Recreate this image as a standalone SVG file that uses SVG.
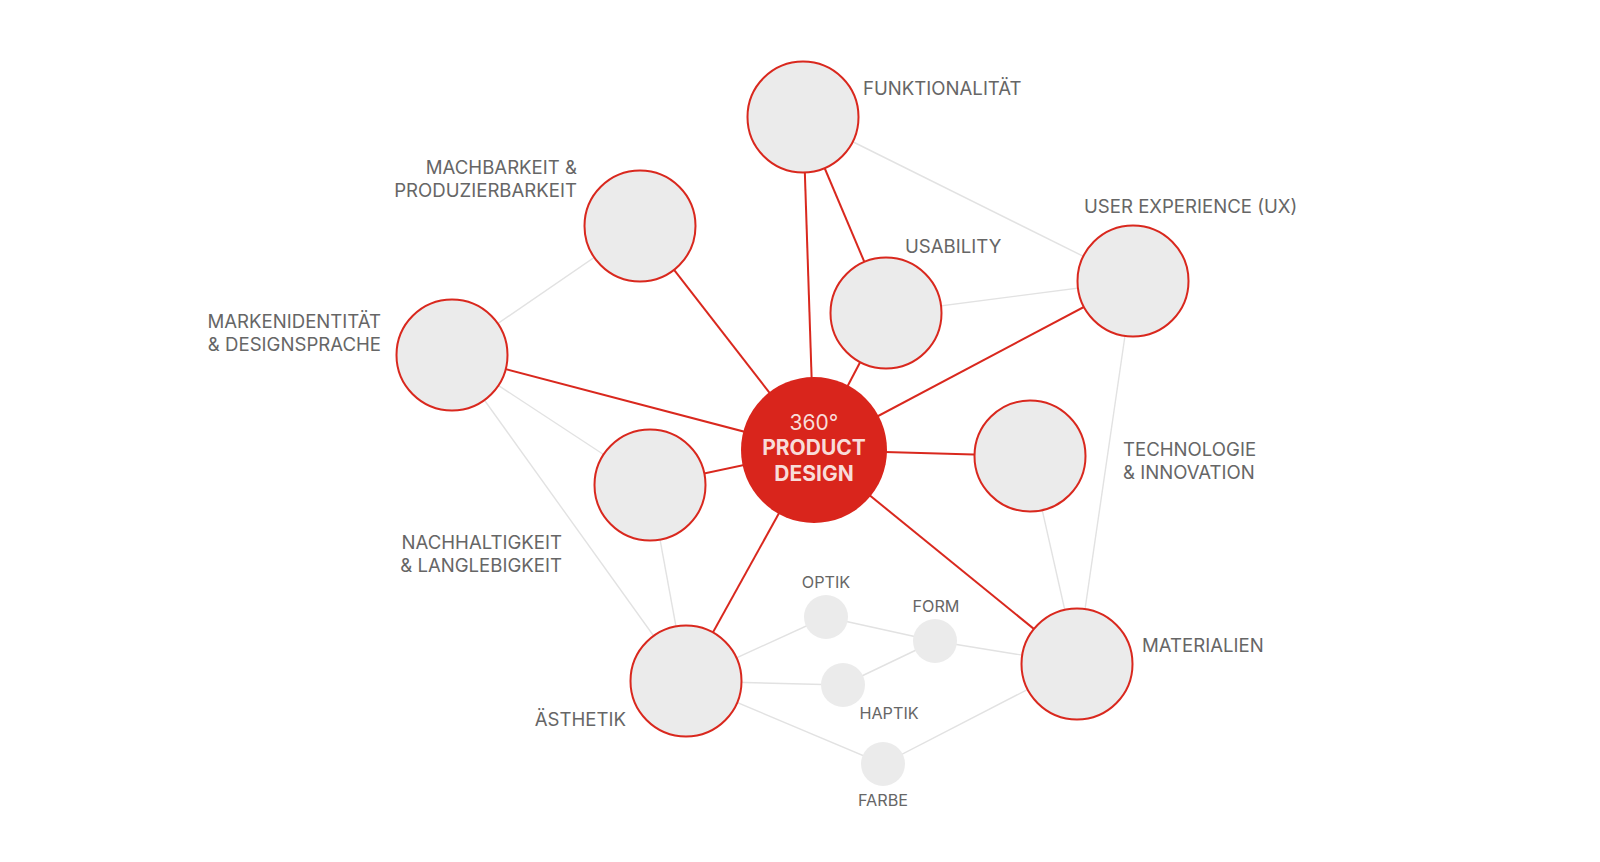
<svg xmlns="http://www.w3.org/2000/svg" width="1600" height="862" viewBox="0 0 1600 862">
<style>
.bg{fill:#ffffff}
.red{stroke:#d9281e;stroke-width:2;fill:none}
.gray{stroke:#e2e2e2;stroke-width:1.4;fill:none}
.node{fill:#ebebeb;stroke:#d9281e;stroke-width:2}
.small{fill:#ebebeb}
.lbl{font-family:Inter,"Liberation Sans",sans-serif;font-size:18.6px;fill:#666666}
.slbl{font-family:Inter,"Liberation Sans",sans-serif;font-size:16.2px;fill:#666666}
.core{fill:#d9251c}
.ctxt{font-family:Inter,"Liberation Sans",sans-serif;font-size:21px;fill:#f8dcd9;text-anchor:middle}
</style>
<rect class="bg" x="0" y="0" width="1600" height="862"/>
<g id="connectors">
<line class="gray" x1="803" y1="117" x2="1133" y2="281"/>
<line class="gray" x1="886" y1="313" x2="1133" y2="281"/>
<line class="gray" x1="640" y1="226" x2="452" y2="355"/>
<line class="gray" x1="452" y1="355" x2="650" y2="485"/>
<line class="gray" x1="452" y1="355" x2="686" y2="681"/>
<line class="gray" x1="650" y1="485" x2="686" y2="681"/>
<line class="gray" x1="1133" y1="281" x2="1077" y2="664"/>
<line class="gray" x1="1030" y1="456" x2="1077" y2="664"/>
<line class="gray" x1="686" y1="681" x2="826" y2="617"/>
<line class="gray" x1="826" y1="617" x2="935" y2="641"/>
<line class="gray" x1="935" y1="641" x2="1077" y2="664"/>
<line class="gray" x1="686" y1="681" x2="843" y2="685"/>
<line class="gray" x1="843" y1="685" x2="935" y2="641"/>
<line class="gray" x1="686" y1="681" x2="883" y2="764"/>
<line class="gray" x1="883" y1="764" x2="1077" y2="664"/>
<line class="red" x1="814" y1="450" x2="803" y2="117"/>
<line class="red" x1="803" y1="117" x2="886" y2="313"/>
<line class="red" x1="814" y1="450" x2="886" y2="313"/>
<line class="red" x1="814" y1="450" x2="1133" y2="281"/>
<line class="red" x1="814" y1="450" x2="640" y2="226"/>
<line class="red" x1="814" y1="450" x2="452" y2="355"/>
<line class="red" x1="814" y1="450" x2="650" y2="485"/>
<line class="red" x1="814" y1="450" x2="1030" y2="456"/>
<line class="red" x1="814" y1="450" x2="1077" y2="664"/>
<line class="red" x1="814" y1="450" x2="686" y2="681"/>
</g>
<g id="n-funktionalitaet">
<circle class="node" cx="803" cy="117" r="55.5"/>
<text class="lbl" x="863" y="95">FUNKTIONALITÄT</text>
</g>
<g id="n-usability">
<circle class="node" cx="886" cy="313" r="55.5"/>
<text class="lbl" x="905" y="253">USABILITY</text>
</g>
<g id="n-ux">
<circle class="node" cx="1133" cy="281" r="55.5"/>
<text class="lbl" x="1084" y="213">USER EXPERIENCE (UX)</text>
</g>
<g id="n-machbarkeit">
<circle class="node" cx="640" cy="226" r="55.5"/>
<text class="lbl" text-anchor="end" x="577" y="174">MACHBARKEIT &amp;</text>
<text class="lbl" text-anchor="end" x="577" y="197">PRODUZIERBARKEIT</text>
</g>
<g id="n-marken">
<circle class="node" cx="452" cy="355" r="55.5"/>
<text class="lbl" text-anchor="end" x="381" y="328">MARKENIDENTITÄT</text>
<text class="lbl" text-anchor="end" x="381" y="351">&amp; DESIGNSPRACHE</text>
</g>
<g id="n-nachhaltigkeit">
<circle class="node" cx="650" cy="485" r="55.5"/>
<text class="lbl" text-anchor="end" x="562" y="549">NACHHALTIGKEIT</text>
<text class="lbl" text-anchor="end" x="562" y="572">&amp; LANGLEBIGKEIT</text>
</g>
<g id="n-technologie">
<circle class="node" cx="1030" cy="456" r="55.5"/>
<text class="lbl" x="1123" y="456">TECHNOLOGIE</text>
<text class="lbl" x="1123" y="479">&amp; INNOVATION</text>
</g>
<g id="n-aesthetik">
<circle class="node" cx="686" cy="681" r="55.5"/>
<text class="lbl" text-anchor="end" x="626" y="726">ÄSTHETIK</text>
</g>
<g id="n-materialien">
<circle class="node" cx="1077" cy="664" r="55.5"/>
<text class="lbl" x="1142" y="652">MATERIALIEN</text>
</g>
<g id="n-optik">
<circle class="small" cx="826" cy="617" r="22"/>
<text class="slbl" text-anchor="middle" x="826" y="588">OPTIK</text>
</g>
<g id="n-form">
<circle class="small" cx="935" cy="641" r="22"/>
<text class="slbl" text-anchor="middle" x="936" y="612">FORM</text>
</g>
<g id="n-haptik">
<circle class="small" cx="843" cy="685" r="22"/>
<text class="slbl" text-anchor="middle" x="889" y="719">HAPTIK</text>
</g>
<g id="n-farbe">
<circle class="small" cx="883" cy="764" r="22"/>
<text class="slbl" text-anchor="middle" x="883" y="806">FARBE</text>
</g>
<g id="n-core">
<circle class="core" cx="814" cy="450" r="73"/>
<text class="ctxt" x="814" y="430">360°</text>
<text class="ctxt" x="814" y="455" font-weight="bold">PRODUCT</text>
<text class="ctxt" x="814" y="481" font-weight="bold">DESIGN</text>
</g>
</svg>
